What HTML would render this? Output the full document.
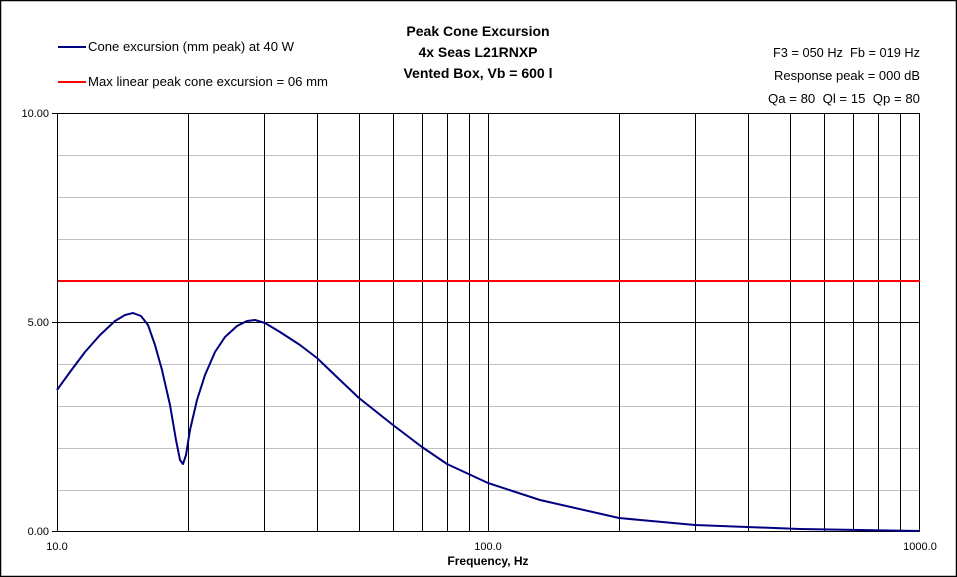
<!DOCTYPE html>
<html><head><style>body{margin:0;background:#fff}svg{display:block}text{font-family:"Liberation Sans",sans-serif;white-space:pre}</style></head><body>
<svg width="957" height="577" xmlns="http://www.w3.org/2000/svg">
<rect x="0.5" y="0.5" width="956" height="576" fill="#fff" stroke="#000" stroke-width="1.5"/>
<g stroke="#c0c0c0" stroke-width="1">
<line x1="58" x2="920" y1="155.5" y2="155.5"/><line x1="58" x2="920" y1="197.5" y2="197.5"/><line x1="58" x2="920" y1="239.5" y2="239.5"/><line x1="58" x2="920" y1="364.5" y2="364.5"/><line x1="58" x2="920" y1="406.5" y2="406.5"/><line x1="58" x2="920" y1="448.5" y2="448.5"/><line x1="58" x2="920" y1="490.5" y2="490.5"/>
</g>
<g stroke="#000" stroke-width="1">
<line x1="58" x2="920" y1="322.5" y2="322.5"/>
<line x1="188.5" x2="188.5" y1="113" y2="532"/><line x1="264.5" x2="264.5" y1="113" y2="532"/><line x1="317.5" x2="317.5" y1="113" y2="532"/><line x1="359.5" x2="359.5" y1="113" y2="532"/><line x1="393.5" x2="393.5" y1="113" y2="532"/><line x1="422.5" x2="422.5" y1="113" y2="532"/><line x1="447.5" x2="447.5" y1="113" y2="532"/><line x1="469.5" x2="469.5" y1="113" y2="532"/><line x1="488.5" x2="488.5" y1="113" y2="532"/>
<line x1="619.5" x2="619.5" y1="113" y2="532"/><line x1="695.5" x2="695.5" y1="113" y2="532"/><line x1="748.5" x2="748.5" y1="113" y2="532"/><line x1="790.5" x2="790.5" y1="113" y2="532"/><line x1="824.5" x2="824.5" y1="113" y2="532"/><line x1="853.5" x2="853.5" y1="113" y2="532"/><line x1="878.5" x2="878.5" y1="113" y2="532"/><line x1="900.5" x2="900.5" y1="113" y2="532"/>
<rect x="57.5" y="113.5" width="862" height="418" fill="none"/>
<line x1="52" x2="58" y1="113.5" y2="113.5"/><line x1="52" x2="58" y1="322.5" y2="322.5"/><line x1="52" x2="58" y1="531.5" y2="531.5"/>
</g>
<line x1="58" x2="920" y1="281" y2="281" stroke="#f00" stroke-width="2"/>
<polyline fill="none" stroke="#000080" stroke-width="2" stroke-linejoin="round" points="57,390 70,372 85,352 100,335 115,321 125,315 133,313 141,316 148,325 155,345 162,370 170,405 176,440 180,460 183,464 186,455 190,430 197,400 205,375 215,352 225,337 237,326 247,321 255,320 265,323 280,332 300,345 317,358 340,380 359,398 393,425 422,447 447,464 488,483 540,500 619,518 695,525 800,529 920,531"/>
<g font-size="11" fill="#000">
<text x="49" y="117" text-anchor="end">10.00</text><text x="49" y="326" text-anchor="end">5.00</text><text x="49" y="535" text-anchor="end">0.00</text>
<text x="57" y="550" text-anchor="middle">10.0</text><text x="488" y="550" text-anchor="middle">100.0</text><text x="920" y="550" text-anchor="middle">1000.0</text>
</g>
<text x="488" y="565" text-anchor="middle" font-size="12" font-weight="bold">Frequency, Hz</text>
<g font-size="14" font-weight="bold" text-anchor="middle">
<text x="478" y="36">Peak Cone Excursion</text><text x="478" y="57">4x Seas L21RNXP</text><text x="478" y="78">Vented Box, Vb = 600 l</text>
</g>
<line x1="58" x2="86" y1="47" y2="47" stroke="#000080" stroke-width="2"/>
<line x1="58" x2="86" y1="82" y2="82" stroke="#f00" stroke-width="2"/>
<g font-size="13"><text x="88" y="51" textLength="206" lengthAdjust="spacingAndGlyphs">Cone excursion (mm peak) at 40 W</text><text x="88" y="86" textLength="240" lengthAdjust="spacingAndGlyphs">Max linear peak cone excursion = 06 mm</text>
<text x="773" y="57" textLength="147" lengthAdjust="spacingAndGlyphs">F3 = 050 Hz  Fb = 019 Hz</text><text x="774" y="80" textLength="146" lengthAdjust="spacingAndGlyphs">Response peak = 000 dB</text><text x="768" y="103" textLength="152" lengthAdjust="spacingAndGlyphs">Qa = 80  Ql = 15  Qp = 80</text></g>
</svg></body></html>
